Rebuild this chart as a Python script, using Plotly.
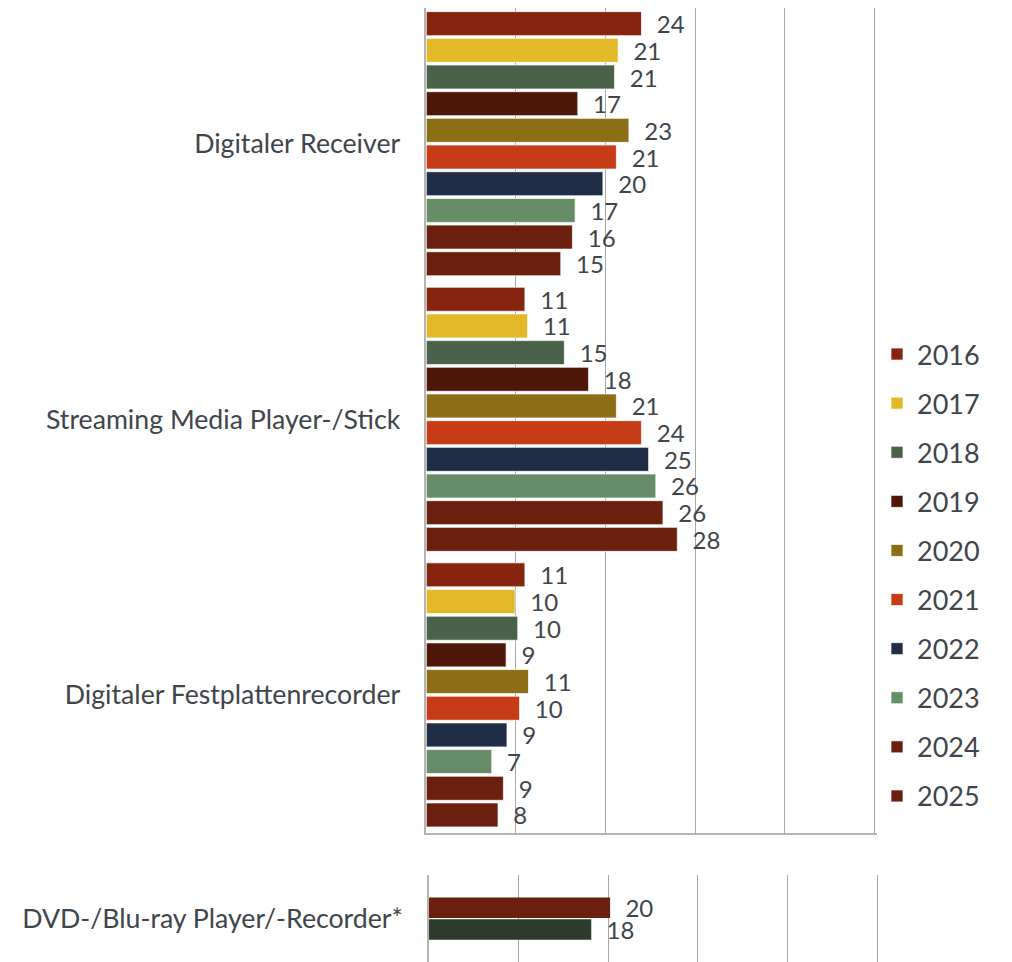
import plotly.graph_objects as go

categories = ["Digitaler Receiver", "Streaming Media Player-/Stick", "Digitaler Festplattenrecorder"]
years = ["2016", "2017", "2018", "2019", "2020", "2021", "2022", "2023", "2024", "2025"]
values = {
    "2016": [24.0, 11.0, 11.0],
    "2017": [21.4, 11.3, 9.9],
    "2018": [21.0, 15.4, 10.2],
    "2019": [16.9, 18.1, 8.9],
    "2020": [22.6, 21.2, 11.4],
    "2021": [21.2, 24.0, 10.4],
    "2022": [19.7, 24.8, 9.0],
    "2023": [16.6, 25.6, 7.3],
    "2024": [16.3, 26.4, 8.6],
    "2025": [15.0, 28.0, 8.0],
}
colors = ["#87240f", "#e2b828", "#4a614a", "#4e1708", "#8c6e17",
          "#c63c17", "#1f2d47", "#668c68", "#6a1f0f", "#6a1f0f"]

dvd_category = ["DVD-/Blu-ray Player/-Recorder*"]
dvd_values = [20.2, 18.1]
dvd_colors = ["#6a1f0f", "#2e3a2c"]

FONT = "Lato, 'Noto Sans', sans-serif"
TXT = "#40454b"
GRID = "#a8a8a8"
W, H = 1012, 962
NB = "\u00a0\u00a0"
XMAX = 50.3
SCALE = 8.965  # px per unit

fig = go.Figure()
for i, y in enumerate(years):
    fig.add_trace(go.Bar(
        y=categories, x=values[y], name=y, orientation="h",
        marker=dict(color=colors[i], line=dict(color="rgba(255,255,255,0.7)", width=1)),
        texttemplate=NB + "%{x:.0f}", textposition="outside",
        constraintext="none", cliponaxis=False,
        textfont=dict(family=FONT, size=24, color=TXT),
        legendgroup=y, xaxis="x", yaxis="y",
    ))

for j, v in enumerate(dvd_values):
    fig.add_trace(go.Bar(
        y=dvd_category, x=[v], orientation="h", showlegend=False,
        marker=dict(color=dvd_colors[j], line=dict(width=0)),
        width=0.235, offset=-0.24 + j * 0.25,
        texttemplate=NB + "%{x:.0f}", textposition="outside",
        constraintext="none", cliponaxis=False,
        textfont=dict(family=FONT, size=24, color=TXT),
        xaxis="x2", yaxis="y2",
    ))

fig.update_layout(
    width=W, height=H, template="none",
    paper_bgcolor="white", plot_bgcolor="white",
    margin=dict(l=0, r=0, t=0, b=0),
    barmode="group", bargap=0.032, bargroupgap=0.1,
    font=dict(family=FONT, color=TXT),
    xaxis=dict(domain=[418.3 / W, (418.3 + XMAX * SCALE) / W], range=[0, XMAX], dtick=10,
               showticklabels=False, showgrid=True, gridcolor=GRID, gridwidth=1,
               zeroline=False, showline=True, linecolor="#b4b4b4", linewidth=1.5,
               ticks="", anchor="y"),
    yaxis=dict(domain=[1 - 824.7 / H, 1.0], range=[2.5, -0.4924],
               showgrid=False, zeroline=False, showline=True, linecolor="#b4b4b4",
               linewidth=1.5, ticks="", ticklabelstandoff=19,
               tickfont=dict(family=FONT, size=26.7, color=TXT), anchor="x"),
    xaxis2=dict(domain=[421 / W, (421 + XMAX * SCALE) / W], range=[0, XMAX], dtick=10,
                showticklabels=False, showgrid=True, gridcolor=GRID, gridwidth=1,
                zeroline=False, showline=False, ticks="", anchor="y2"),
    yaxis2=dict(domain=[8 / H, 1 - 867 / H], range=[0.5, -0.5],
                showgrid=False, zeroline=False, showline=True, linecolor="#b4b4b4",
                linewidth=1.5, ticks="", ticklabelstandoff=19,
                tickfont=dict(family=FONT, size=26.7, color=TXT), anchor="x2"),
    legend=dict(x=869 / W, xanchor="left", y=1 - 322 / H, yanchor="top",
                font=dict(family=FONT, size=27, color=TXT),
                tracegroupgap=11, bgcolor="rgba(0,0,0,0)", traceorder="grouped"),
)

fig.write_html("out.html")
